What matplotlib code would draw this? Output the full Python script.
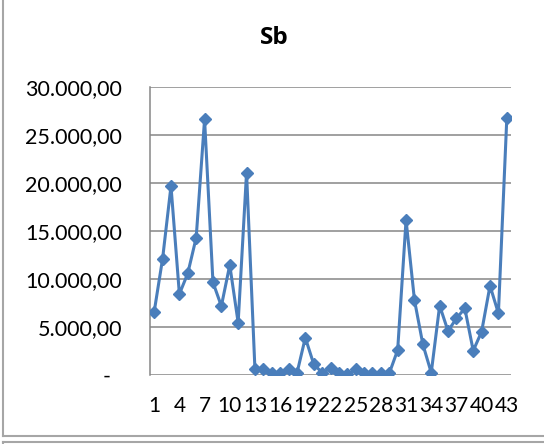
import matplotlib
matplotlib.use("Agg")
import matplotlib.pyplot as plt
from matplotlib.lines import Line2D
from matplotlib.ticker import FuncFormatter

plt.rcParams['font.family'] = ['Lato', 'DejaVu Sans']

# values (Sb, samples 1..43)
samples = list(range(1, 44))
sb = [6560, 12080, 19650, 8400, 10560, 14270, 26600, 9620, 7150, 11420,
      5420, 21040, 560, 560, 210, 210, 590, 140, 3850, 1110,
      210, 660, 210, 40, 560, 140, 210, 210, 140, 2570,
      16110, 7780, 3160, 210, 7190, 4550, 5870, 6910, 2500, 4480,
      9270, 6390, 26700]
y_ticks = [0, 5000, 10000, 15000, 20000, 25000, 30000]
x_labels = samples[::3]

line_col = '#4a7ebb'
grid_col = '#868686'


def fmt(v, pos):
    if v == 0:
        return '-  '
    s = '{:,.2f}'.format(v)
    return s.replace(',', 'X').replace('.', ',').replace('X', '.')


fig = plt.figure(figsize=(5.44, 4.44), dpi=100)
ax = fig.add_axes([150/544, 69.3/444, 361/544, 288/444])

ax.plot(samples, sb, color=line_col, lw=2.2, marker='D', ms=6.5,
        markerfacecolor=line_col, markeredgecolor=line_col, zorder=3)

ax.set_xlim(0.5, 43.5)
ax.set_ylim(0, 30000)
ax.set_yticks(y_ticks)
ax.yaxis.set_major_formatter(FuncFormatter(fmt))
ax.set_xticks(x_labels)
ax.set_xticklabels([str(v) for v in x_labels])
ax.grid(axis='y', color=grid_col, lw=1.1)
ax.set_axisbelow(True)
for side in ['top', 'right', 'bottom']:
    ax.spines[side].set_visible(False)
ax.spines['left'].set_color(grid_col)
ax.spines['left'].set_linewidth(1.1)
ax.tick_params(axis='y', length=0, pad=20, labelsize=15.5)
ax.tick_params(axis='x', length=0, pad=15, labelsize=15)

fig.text(274/544, 1 - 38/444, 'Sb', ha='center', va='center',
         fontsize=17.5, fontweight='bold', family=['Open Sans', 'DejaVu Sans'])

# chart frame (outer border) and top of the next chart below
border = '#a6a6a6'
fig.add_artist(Line2D([2.5/544, 2.5/544], [1, 1 - 436/444], color=border, lw=1.5))
fig.add_artist(Line2D([2.5/544, 1], [1 - 436/444, 1 - 436/444], color=border, lw=1.5))
fig.add_artist(Line2D([2.5/544, 1], [1 - 442/444, 1 - 442/444], color=border, lw=1.5))
fig.add_artist(Line2D([2.5/544, 2.5/544], [1 - 442/444, 0], color=border, lw=1.5))

fig.savefig('out.png', dpi=100)
